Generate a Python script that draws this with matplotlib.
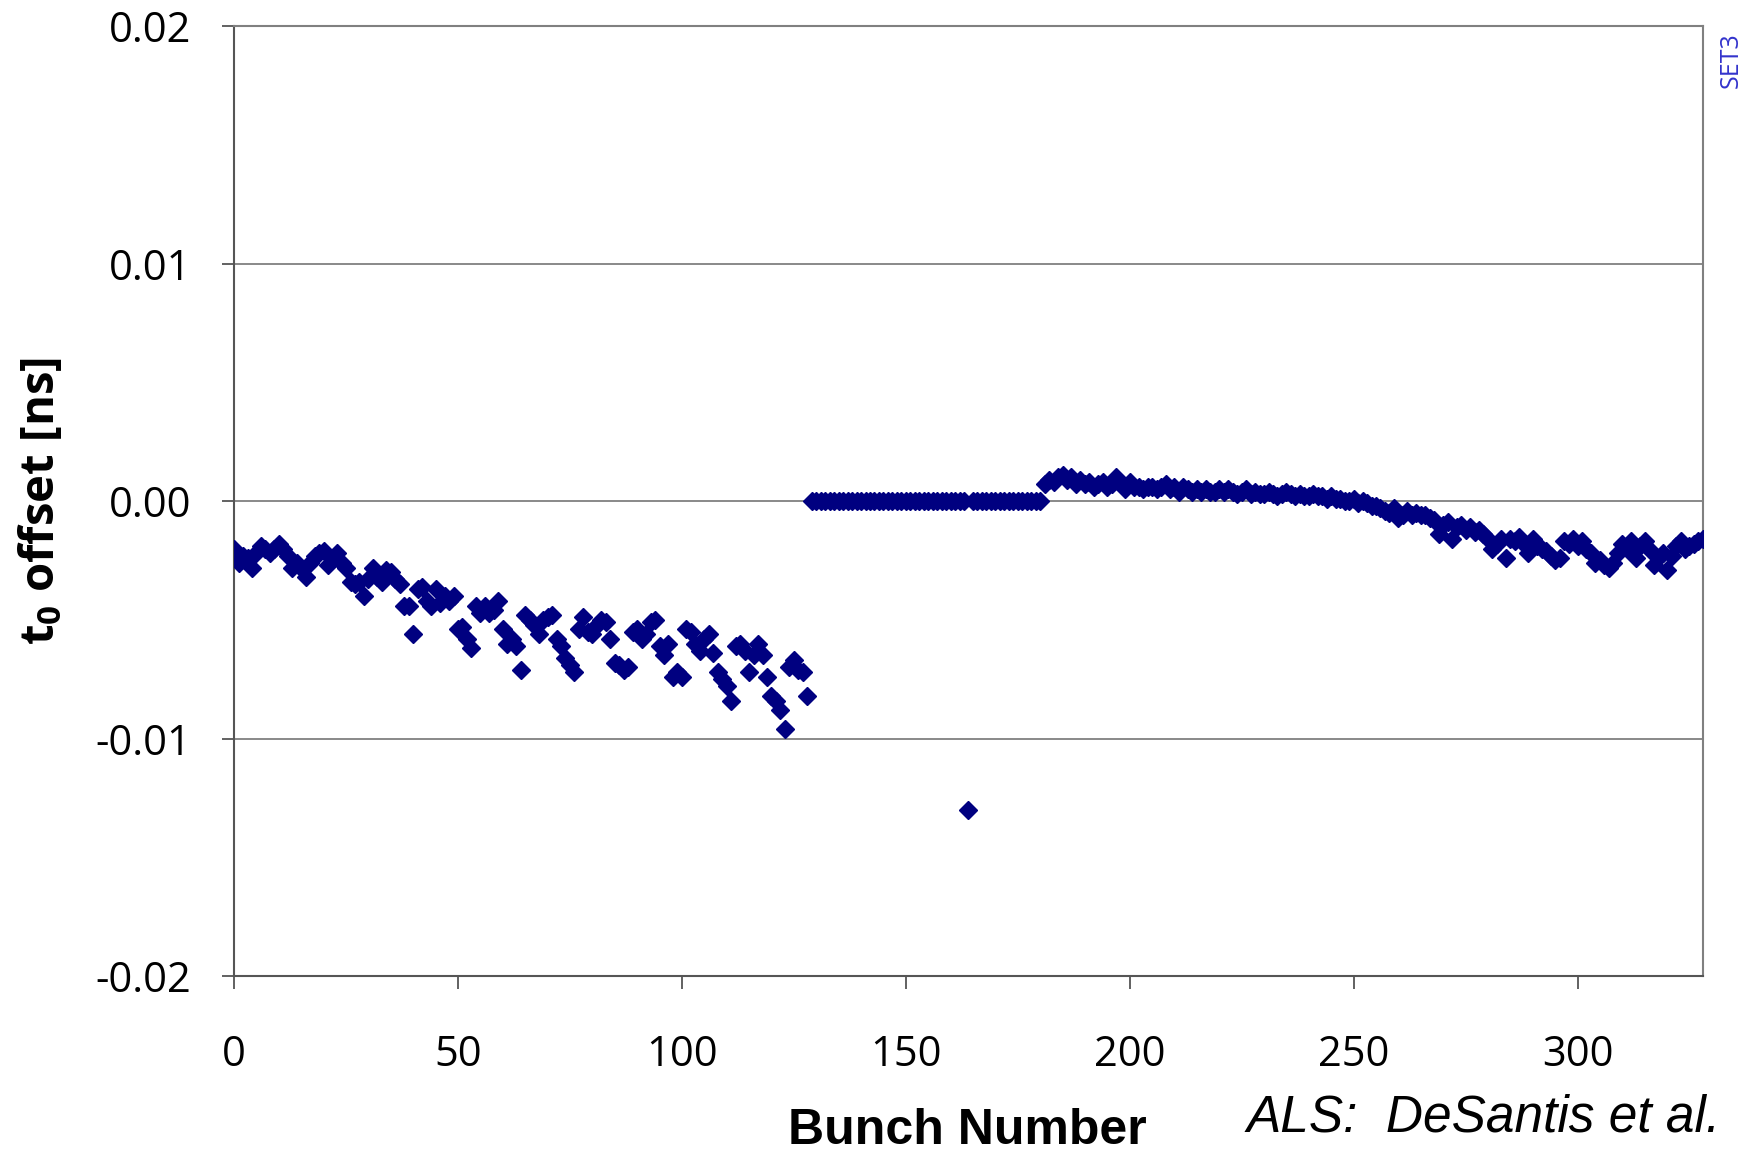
import numpy as np
import matplotlib
matplotlib.use("Agg")
import matplotlib.pyplot as plt

# t0 offset [ns] per bunch (bunch 0 .. 328)
offset_train1 = [
    -0.0020, -0.0026, -0.0023, -0.0024, -0.0028, -0.0022, -0.0019, -0.0020, -0.0022, -0.0020,
    -0.0018, -0.0020, -0.0023, -0.0028, -0.0026, -0.0028, -0.0032, -0.0026, -0.0023, -0.0022,
    -0.0021, -0.0027, -0.0024, -0.0022, -0.0026, -0.0028, -0.0034, -0.0035, -0.0034, -0.0040,
    -0.0033, -0.0028, -0.0032, -0.0034, -0.0029, -0.0030, -0.0033, -0.0035, -0.0044, -0.0044,
    -0.0056, -0.0037, -0.0036, -0.0042, -0.0044, -0.0037, -0.0043, -0.0040, -0.0042, -0.0040,
    -0.0054, -0.0053, -0.0058, -0.0062, -0.0044, -0.0047, -0.0044, -0.0047, -0.0046, -0.0042,
    -0.0054, -0.0060, -0.0058, -0.0061, -0.0071, -0.0048, -0.0050, -0.0052, -0.0056, -0.0050,
    -0.0049, -0.0048, -0.0058, -0.0061, -0.0066, -0.0069, -0.0072, -0.0054, -0.0049, -0.0055,
    -0.0056, -0.0052, -0.0050, -0.0051, -0.0058, -0.0068, -0.0069, -0.0071, -0.0070, -0.0055,
    -0.0054, -0.0058, -0.0056, -0.0051, -0.0050, -0.0061, -0.0065, -0.0060, -0.0074, -0.0072,
    -0.0074, -0.0054, -0.0055, -0.0060, -0.0063, -0.0058, -0.0056, -0.0064, -0.0072, -0.0075,
    -0.0078, -0.0084, -0.0061, -0.0060, -0.0063, -0.0072, -0.0065, -0.0060, -0.0065, -0.0074,
    -0.0082, -0.0084, -0.0088, -0.0096, -0.0070, -0.0067, -0.0071, -0.0072, -0.0082,
]
# reference bunches (129 .. 180), bunch 164 is the outlier
offset_ref = [
    0.0, 0.0, 0.0, 0.0, 0.0, 0.0, 0.0, 0.0, 0.0, 0.0,
    0.0, 0.0, 0.0, 0.0, 0.0, 0.0, 0.0, 0.0, 0.0, 0.0,
    0.0, 0.0, 0.0, 0.0, 0.0, 0.0, 0.0, 0.0, 0.0, 0.0,
    0.0, 0.0, 0.0, 0.0, 0.0, -0.0130, 0.0, 0.0, 0.0, 0.0,
    0.0, 0.0, 0.0, 0.0, 0.0, 0.0, 0.0, 0.0, 0.0, 0.0,
    0.0, 0.0,
]
offset_train2 = [
    0.0007, 0.0009, 0.0008, 0.0010, 0.0011, 0.0009, 0.0010, 0.0007, 0.0009, 0.0007,
    0.0008, 0.0006, 0.0007, 0.0008, 0.0006, 0.0007, 0.0010, 0.0007, 0.0005, 0.0008,
    0.0006, 0.0006, 0.0005, 0.0006, 0.0006, 0.0005, 0.0006, 0.0007, 0.0005, 0.0006,
    0.0004, 0.0006, 0.0005, 0.0004, 0.0005, 0.0004, 0.0005, 0.0004, 0.0004, 0.0005,
    0.0004, 0.0005, 0.0004, 0.0003, 0.0004, 0.0005, 0.0003, 0.0004, 0.0003, 0.0003,
    0.0004, 0.0003, 0.0002, 0.0003, 0.0004, 0.0003, 0.0002, 0.0003, 0.0002, 0.0002,
    0.0003, 0.0002, 0.0002, 0.0001, 0.0002, 0.0001, 0.0001, 0.0000, 0.0000, 0.0001,
    -0.0001, 0.0000, -0.0001, -0.0002, -0.0002,
    -0.0003, -0.0004, -0.0005, -0.0003, -0.0007, -0.0006, -0.0004, -0.0006, -0.0005, -0.0006,
    -0.0006, -0.0007, -0.0008, -0.0014, -0.0010, -0.0009, -0.0016, -0.0011, -0.0010, -0.0012,
    -0.0011, -0.0013, -0.0012, -0.0014, -0.0016, -0.0020, -0.0018, -0.0016, -0.0024, -0.0016,
    -0.0017, -0.0015, -0.0018, -0.0022, -0.0016, -0.0019, -0.0020, -0.0021, -0.0023, -0.0025,
    -0.0024, -0.0017, -0.0018, -0.0016, -0.0019, -0.0017, -0.0020, -0.0022, -0.0026, -0.0025,
    -0.0027, -0.0028, -0.0026, -0.0022, -0.0018, -0.0020, -0.0017, -0.0024, -0.0019, -0.0017,
    -0.0020, -0.0027, -0.0024, -0.0022, -0.0029, -0.0023, -0.0019, -0.0017, -0.0020, -0.0019,
    -0.0018, -0.0017, -0.0016,
]
offset = offset_train1 + offset_ref + offset_train2
bunch = np.arange(len(offset))

x_ticks = [0, 50, 100, 150, 200, 250, 300]
y_ticks = [-0.02, -0.01, 0.0, 0.01, 0.02]
y_ticklabels = ["-0.02", "-0.01", "0.00", "0.01", "0.02"]

plt.rcParams['font.family'] = ['Open Sans', 'DejaVu Sans']
plt.rcParams['mathtext.fontset'] = 'custom'
plt.rcParams['mathtext.bf'] = 'Open Sans:bold'
plt.rcParams['mathtext.rm'] = 'Open Sans'

fig = plt.figure(figsize=(17.43, 11.51), dpi=100)
ax = fig.add_axes([0.1343, 0.152, 0.9770 - 0.1343, 0.9774 - 0.152])

for yv in [-0.01, 0.0, 0.01]:
    ax.axhline(yv, color='#808080', linewidth=1.3, zorder=1)

ax.plot(bunch, offset, linestyle='none', marker='D', markersize=8.8,
        color='#000080', markeredgecolor='#000080', zorder=3)

ax.set_xlim(0, 328)
ax.set_ylim(-0.02, 0.02)
ax.set_xticks(x_ticks)
ax.set_yticks(y_ticks)
ax.set_yticklabels(y_ticklabels)

for side in ['top', 'right']:
    ax.spines[side].set_color('#808080')
    ax.spines[side].set_linewidth(1.5)
for side in ['left', 'bottom']:
    ax.spines[side].set_color('#555555')
    ax.spines[side].set_linewidth(1.5)

ax.tick_params(axis='both', direction='out', length=9, width=1.3, color='#555555',
               labelsize=30, labelcolor='black')
ax.tick_params(axis='y', pad=22)
ax.tick_params(axis='x', pad=33)

ax.set_ylabel(r"$\mathbf{t_0}$ offset [ns]", fontsize=34, fontweight='bold', labelpad=22)

fig.text(0.555, 0.006, "Bunch Number", fontsize=36, fontweight='bold',
         family=['Liberation Sans', 'DejaVu Sans'],
         ha='center', va='baseline')
fig.text(0.987, 0.0167, "ALS:  DeSantis et al.", fontsize=37, style='italic',
         family=['Liberation Sans', 'DejaVu Sans'],
         ha='right', va='baseline')
fig.text(0.993, 0.972, "SET3", fontsize=18, color='#3333cc', rotation=90,
         ha='center', va='top')

fig.savefig("out.png", dpi=100)
